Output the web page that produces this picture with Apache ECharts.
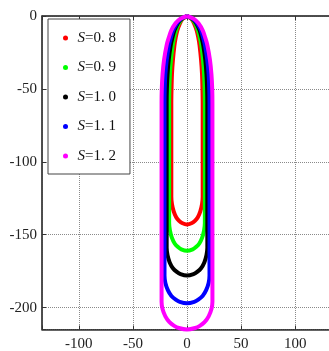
<!DOCTYPE html>
<html>
<head>
<meta charset="utf-8">
<script src="https://cdn.jsdelivr.net/npm/echarts@6/dist/echarts.min.js"></script>
<style>
  html, body { margin: 0; padding: 0; background: #fff; }
  #chart { width: 329px; height: 351px; }
</style>
</head>
<body>
<div id="chart"></div>
<script>
const seriesNames = ['S=0.8', 'S=0.9', 'S=1.0', 'S=1.1', 'S=1.2'];
const seriesColors = ['#ff0000', '#00ff00', '#000000', '#0000ff', '#ff00ff'];
const xTicks = [-100, -50, 0, 50, 100];
const yTicks = [0, -50, -100, -150, -200];

// right half of each loop, read from apex (0,0) down to the bottom
const depthS08 = [0, -2, -5, -10, -15, -20, -30, -40, -50, -60, -124, -129, -134, -138, -140.5, -142, -143];
const halfS08  = [0, 4, 6.5, 9, 10.5, 11.6, 13, 13.9, 14.3, 14.5, 14.5, 13.9, 12.3, 10, 7.3, 4.6, 0];
const depthS09 = [0, -2, -5, -10, -15, -20, -30, -40, -50, -60, -142, -147, -152, -156, -158.5, -160, -161];
const halfS09  = [0, 4.5, 7.4, 10.2, 11.9, 13.2, 14.8, 15.8, 16.3, 16.5, 16.5, 15.8, 14, 11.4, 8.3, 5.3, 0];
const depthS10 = [0, -2, -5, -10, -15, -20, -30, -40, -50, -60, -159, -164, -169, -173, -175.5, -177, -178];
const halfS10  = [0, 5.1, 8.5, 11.7, 13.5, 15, 16.9, 18, 18.6, 18.8, 18.8, 18, 16, 13, 9.4, 6, 0];
const depthS11 = [0, -2, -5, -10, -15, -20, -30, -40, -50, -60, -178, -183, -188, -192, -194.5, -196, -197];
const halfS11  = [0, 5.6, 9.4, 12.9, 15, 16.6, 18.7, 20, 20.6, 20.8, 20.8, 20, 17.7, 14.4, 10.4, 6.7, 0];
const depthS12 = [0, -2, -5, -10, -15, -20, -30, -40, -50, -60, -196, -201, -206, -210, -212.5, -214, -215];
const halfS12  = [0, 6.3, 10.6, 14.6, 16.9, 18.8, 21.2, 22.6, 23.3, 23.5, 23.5, 22.6, 20, 16.2, 11.8, 7.5, 0];

const depths = [depthS08, depthS09, depthS10, depthS11, depthS12];
const halves = [halfS08, halfS09, halfS10, halfS11, halfS12];

// closed loop: right side going down, left side coming back up
function loop(half, depth) {
  const right = half.map((w, i) => [w, depth[i]]);
  const left = half.map((w, i) => [-w, depth[i]]).reverse();
  return right.concat(left.slice(1));
}

const font = 'Liberation Serif, Times New Roman, serif';
const chart = echarts.init(document.getElementById('chart'));

const axisLine = { onZero: false, lineStyle: { color: '#333', width: 1.5 } };
const axisTick = { inside: true, length: 4, lineStyle: { color: '#333' } };
const splitLine = { show: true, lineStyle: { type: 'dotted', color: '#8a8a8a', width: 1 } };

chart.setOption({
  animation: false,
  backgroundColor: '#fff',
  grid: {
    left: 42, top: 16, right: -3, bottom: 21.5,
    show: true, borderColor: '#444', borderWidth: 1,
    outerBoundsMode: 'none'
  },
  legend: {
    orient: 'vertical',
    left: 48,
    top: 19,
    padding: [11, 14, 10, 15],
    itemGap: 13.5,
    itemWidth: 14,
    itemHeight: 5,
    icon: 'circle',
    backgroundColor: '#fff',
    borderColor: '#444',
    borderWidth: 1,
    data: seriesNames,
    formatter: name => '{i|S}' + name.slice(1).replace('.', '. '),
    textStyle: {
      fontFamily: font, fontSize: 15, color: '#111', lineHeight: 16,
      rich: {
        i: { fontFamily: font, fontSize: 15, fontStyle: 'italic', color: '#111', lineHeight: 16 }
      }
    }
  },
  xAxis: [
    {
      type: 'value', min: -134, max: 134, position: 'bottom',
      axisLine, axisTick, splitLine,
      axisLabel: {
        fontFamily: font, fontSize: 15, color: '#222', margin: 7,
        formatter: v => (xTicks.includes(v) ? String(v) : '')
      }
    },
    {
      type: 'value', min: -134, max: 134, position: 'top',
      axisLine, axisTick, splitLine: { show: false }, axisLabel: { show: false }
    }
  ],
  yAxis: {
    type: 'value', min: -215, max: 0,
    axisLine, axisTick, splitLine,
    axisLabel: {
      fontFamily: font, fontSize: 15, color: '#222', margin: 5,
      formatter: v => (yTicks.includes(v) ? String(v) : '')
    }
  },
  // outer loops drawn over inner ones, so the magenta one caps the apex
  series: seriesNames.map((name, i) => ({
    name,
    type: 'line',
    data: loop(halves[i], depths[i]),
    showSymbol: false,
    symbol: 'circle',
    smooth: 0.3,
    clip: false,
    z: 5 + i,
    itemStyle: { color: seriesColors[i] },
    lineStyle: { color: seriesColors[i], width: 4 }
  }))
});
</script>
</body>
</html>
